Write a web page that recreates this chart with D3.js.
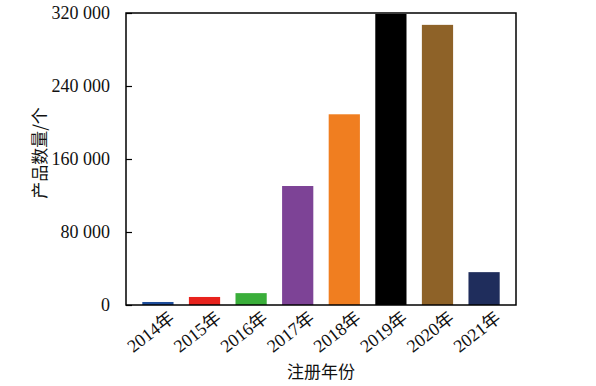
<!DOCTYPE html>
<html>
<head>
<meta charset="utf-8">
<script src="https://cdn.jsdelivr.net/npm/d3@7"></script>
<style>
  body { margin: 0; background: #fff; }
</style>
</head>
<body>
<div id="chart"></div>
<script>
const years = ["2014年", "2015年", "2016年", "2017年", "2018年", "2019年", "2020年", "2021年"];
const counts = [3300, 8800, 13000, 130400, 209000, 319000, 307000, 36000];
const colors = ["#1f4e9c", "#e8231d", "#3aae3a", "#7d4396", "#f07e20", "#000000", "#8e6228", "#1f2d5c"];
const yTicks = [0, 80000, 160000, 240000, 320000];

const serif = "'Liberation Serif', 'Times New Roman', 'Noto Sans CJK SC', serif";
const cjk = "'Noto Sans CJK SC', sans-serif";

const margin = { top: 13, right: 80, bottom: 81, left: 126 },
      width = 596 - margin.left - margin.right,
      height = 386 - margin.top - margin.bottom;

const svg = d3.select("#chart")
              .append("svg")
              .attr("width", 596)
              .attr("height", 386)
              .append("g")
              .attr("transform", `translate(${margin.left},${margin.top})`);

const data = years.map((y, i) => ({ year: y, count: counts[i], color: colors[i] }));

const xScale = d3.scaleBand()
                 .domain(years)
                 .range([0, width])
                 .paddingInner(0.33)
                 .paddingOuter(0.35);
const yScale = d3.scaleLinear()
                 .domain([0, 320000])
                 .range([height, 0]);

// bars
svg.selectAll("rect.bar")
   .data(data)
   .enter()
   .append("rect")
   .attr("class", "bar")
   .attr("x", d => xScale(d.year))
   .attr("y", d => yScale(d.count))
   .attr("width", xScale.bandwidth())
   .attr("height", d => height - yScale(d.count))
   .attr("fill", d => d.color);

// frame
svg.append("rect")
   .attr("width", width)
   .attr("height", height)
   .attr("fill", "none")
   .attr("stroke", "#000")
   .attr("stroke-width", 1.5);

// y axis, ticks pointing inward
const yAxis = svg.append("g")
   .call(d3.axisLeft(yScale)
           .tickValues(yTicks)
           .tickSize(-6)
           .tickPadding(16)
           .tickFormat(d => d3.format(",")(d).replace(/,/g, " ")));
yAxis.attr("font-family", null);
yAxis.select(".domain").remove();
yAxis.selectAll("line").attr("stroke", "#000").attr("stroke-width", 1.2);
yAxis.selectAll("text")
     .style("font-size", "18px")
     .style("font-family", serif)
     .attr("fill", "#111");

// x axis labels
const xAxis = svg.append("g")
   .attr("transform", `translate(0,${height})`)
   .call(d3.axisBottom(xScale).tickSize(0).tickPadding(0));
xAxis.attr("font-family", null);
xAxis.select(".domain").remove();
xAxis.selectAll("text")
     .style("font-size", "18px")
     .style("font-family", serif)
     .attr("fill", "#111")
     .attr("text-anchor", "end")
     .attr("dy", null)
     .attr("transform", "translate(10,5) rotate(-38)")
     .attr("dominant-baseline", "hanging");

// axis titles
svg.append("text")
   .attr("x", width / 2)
   .attr("y", height + 73)
   .attr("text-anchor", "middle")
   .style("font-size", "17px")
   .style("font-family", cjk)
   .attr("fill", "#111")
   .text("注册年份");

svg.append("text")
   .attr("transform", "rotate(-90)")
   .attr("x", -height / 2 + 6)
   .attr("y", -80)
   .attr("text-anchor", "middle")
   .style("font-size", "17px")
   .style("font-family", cjk)
   .attr("fill", "#111")
   .text("产品数量/个");
</script>
</body>
</html>
